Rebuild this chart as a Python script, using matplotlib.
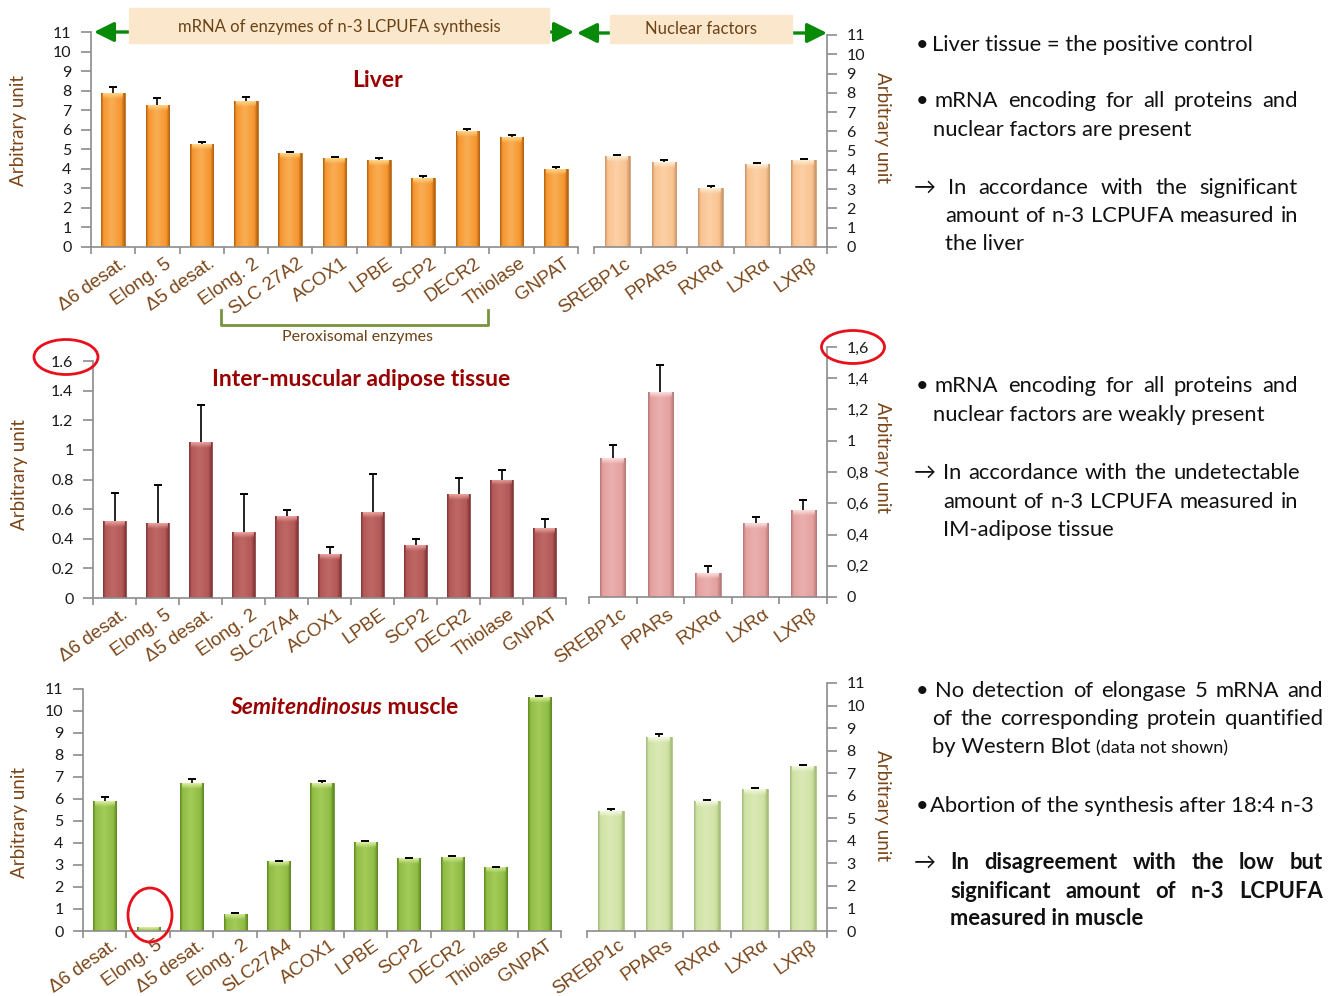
import numpy as np
import matplotlib
matplotlib.use('Agg')
import matplotlib.pyplot as plt
from matplotlib.patches import Rectangle, Ellipse
from matplotlib.colors import LinearSegmentedColormap, to_rgb
from matplotlib.ticker import FuncFormatter
from matplotlib.transforms import ScaledTranslation

W, H = 1343, 996

# categories
liver_enzymes = ['Δ6 desat.', 'Elong. 5', 'Δ5 desat.', 'Elong. 2', 'SLC 27A2', 'ACOX1',
                 'LPBE', 'SCP2', 'DECR2', 'Thiolase', 'GNPAT']
enzymes = ['Δ6 desat.', 'Elong. 5', 'Δ5 desat.', 'Elong. 2', 'SLC27A4', 'ACOX1',
           'LPBE', 'SCP2', 'DECR2', 'Thiolase', 'GNPAT']
factors = ['SREBP1c', 'PPARs', 'RXRα', 'LXRα', 'LXRβ']

# liver
liver_enz = [7.90, 7.24, 5.25, 7.46, 4.83, 4.53, 4.43, 3.51, 5.91, 5.62, 3.97]
liver_enz_err = [0.29, 0.39, 0.13, 0.19, 0.04, 0.05, 0.12, 0.14, 0.12, 0.09, 0.13]
liver_nf = [4.71, 4.40, 3.08, 4.30, 4.54]
liver_nf_err = [0.04, 0.09, 0.06, 0.05, 0.04]

# inter-muscular adipose tissue
adip_enz = [0.523, 0.509, 1.055, 0.444, 0.552, 0.294, 0.583, 0.355, 0.705, 0.800, 0.471]
adip_enz_err = [0.184, 0.256, 0.245, 0.256, 0.045, 0.047, 0.256, 0.045, 0.107, 0.066, 0.061]
adip_nf = [0.890, 1.310, 0.156, 0.474, 0.559]
adip_nf_err = [0.085, 0.173, 0.044, 0.040, 0.064]

# semitendinosus muscle
muscle_enz = [5.89, 0.17, 6.72, 0.76, 3.17, 6.72, 4.04, 3.31, 3.35, 2.90, 10.65]
muscle_enz_err = [0.18, 0.0, 0.21, 0.07, 0.03, 0.12, 0.04, 0.03, 0.05, 0.03, 0.05]
muscle_nf = [5.33, 8.62, 5.76, 6.31, 7.32]
muscle_nf_err = [0.08, 0.11, 0.03, 0.05, 0.06]

BROWN = '#7A4518'
DARKRED = '#990000'
GREY = '#8C8C8C'
GREEN = '#078A07'
TICKFONT = ['Liberation Sans', 'DejaVu Sans']

plt.rcParams['font.family'] = ['Lato', 'DejaVu Sans']

fig = plt.figure(figsize=(W / 100, H / 100), dpi=100)
renderer = fig.canvas.get_renderer()


def px_axes(x0, y0, x1, y1):
    return fig.add_axes([x0 / W, 1 - y1 / H, (x1 - x0) / W, (y1 - y0) / H])


def glossy_bars(ax, values, errors, colors, px_per_unit, width=0.53):
    color, dark, light, cap = colors
    x = np.arange(len(values))
    bars = ax.bar(x, values, width=width, color=color, edgecolor=dark, linewidth=0.5, zorder=2)
    cmap = LinearSegmentedColormap.from_list(
        'gl', [(0, dark), (0.1, color), (0.45, light), (0.85, color), (1, dark)])
    grad = np.linspace(0, 1, 64).reshape(1, -1)
    # soft light cap on top of each bar
    rgb = np.array(to_rgb(cap))
    cap_img = np.zeros((16, 1, 4))
    cap_img[:, 0, :3] = rgb
    cap_img[:, 0, 3] = np.linspace(0.95, 0.0, 16)
    dh = 6 / px_per_unit
    for b in bars:
        h = b.get_height()
        if h <= 0:
            continue
        x0, x1 = b.get_x(), b.get_x() + b.get_width()
        im = ax.imshow(grad, cmap=cmap, extent=(x0, x1, 0, h),
                       aspect='auto', zorder=2.5, interpolation='bilinear')
        im.set_clip_path(b)
        im2 = ax.imshow(cap_img, extent=(x0 + 0.08 * (x1 - x0), x1 - 0.08 * (x1 - x0),
                                         max(h - dh, 0), h),
                        aspect='auto', zorder=2.6, interpolation='bilinear')
        im2.set_clip_path(b)
    err = np.array(errors)
    top = np.array(values) + err
    ax.errorbar(x, values, yerr=[np.zeros(len(values)), err], fmt='none',
                ecolor='black', elinewidth=1.2, capsize=0, zorder=3)
    keep = err > 0
    ax.plot(x[keep], top[keep], linestyle='none', marker='_', markersize=6,
            mew=1.4, color='black', zorder=3)


def panel(box, labels, values, errors, ymax, step, colors, side, dec='.', pad=6):
    ax = px_axes(*box)
    glossy_bars(ax, values, errors, colors, (box[3] - box[1]) / ymax)
    n = len(labels)
    ax.set_xlim(-0.5, n - 0.5)
    ax.set_ylim(0, ymax)
    ax.patch.set_alpha(0)
    ax.set_xticks(np.arange(n))
    ax.set_xticklabels(labels, rotation=35, ha='right', va='top', rotation_mode='anchor',
                       fontsize=13.5, color=BROWN, family=TICKFONT)
    ax.set_xticks(np.arange(n + 1) - 0.5, minor=True)
    ax.tick_params(axis='x', which='major', length=0, pad=pad)
    ax.tick_params(axis='x', which='minor', length=5, width=1.2, color=GREY)
    for lab in ax.get_xticklabels():
        lab.set_transform(lab.get_transform() + ScaledTranslation(7 / 100, 0, fig.dpi_scale_trans))
    ax.set_yticks(np.arange(0, ymax + step / 2, step))
    ax.yaxis.set_major_formatter(FuncFormatter(
        lambda v, p: f'{v:.1f}'.rstrip('0').rstrip('.').replace('.', dec)))
    ax.tick_params(axis='y', length=7, width=1.2, color=GREY, labelsize=11.5,
                   labelcolor='#1a1a1a', pad=7)
    for s in ['top', 'left', 'right', 'bottom']:
        ax.spines[s].set_color(GREY)
        ax.spines[s].set_linewidth(1.2)
    ax.spines['top'].set_visible(False)
    if side == 'left':
        ax.spines['right'].set_visible(False)
    else:
        ax.spines['left'].set_visible(False)
        ax.yaxis.tick_right()
    return ax


# main, edge, centre highlight, top cap
orange = ('#F6962F', '#B0600F', '#F9AE55', '#FFD98A')
peach = ('#FAC390', '#C8956A', '#FCD0A6', '#FFF0D8')
red = ('#B35957', '#7E3436', '#BE6866', '#F0A8A4')
pink = ('#E5A09E', '#B57877', '#EAB0AE', '#FBE2E0')
green = ('#90BD45', '#5B8720', '#A3CB59', '#E2F2A8')
lgreen = ('#D1E2A5', '#A3BB76', '#DBE9B6', '#F6FBE6')

panel((91, 32, 578, 247), liver_enzymes, liver_enz, liver_enz_err, 11, 1, orange, 'left')
panel((594, 35, 827, 247), factors, liver_nf, liver_nf_err, 11, 1, peach, 'right')
panel((93, 361, 566, 598), enzymes, adip_enz, adip_enz_err, 1.6, 0.2, red, 'left')
panel((589, 347, 827, 597), factors, adip_nf, adip_nf_err, 1.6, 0.2, pink, 'right', dec=',')
panel((83, 689, 561, 931), enzymes, muscle_enz, muscle_enz_err, 11, 1, green, 'left', pad=4)
panel((587, 683, 827, 931), factors, muscle_nf, muscle_nf_err, 11, 1, lgreen, 'right', pad=4)

# overlay in pixel coordinates for annotations
ov = fig.add_axes([0, 0, 1, 1], zorder=10)
ov.set_xlim(0, W)
ov.set_ylim(H, 0)
ov.axis('off')
ov.patch.set_alpha(0)

arrow = dict(arrowstyle='<|-|>,head_length=0.6,head_width=0.3', color=GREEN, lw=2.4,
             mutation_scale=20, shrinkA=0, shrinkB=0)
ov.annotate('', xy=(574, 32), xytext=(94, 32), arrowprops=arrow)
ov.annotate('', xy=(827, 33), xytext=(577, 33), arrowprops=arrow)
ov.add_patch(Rectangle((129, 8), 420, 35, color='#FBE8CC', zorder=3))
ov.add_patch(Rectangle((610, 15), 182, 28, color='#FBE8CC', zorder=3))
ov.text(339, 27, 'mRNA of enzymes of n-3 LCPUFA synthesis', ha='center', va='center',
        fontsize=12, color='#6B4216', zorder=4)
ov.text(701, 29, 'Nuclear factors', ha='center', va='center', fontsize=12,
        color='#6B4216', zorder=4)

# peroxisomal bracket
ov.plot([221, 221, 488, 488], [310, 325, 325, 310], color='#77933C', lw=2)
ov.text(357, 337, 'Peroxisomal enzymes', ha='center', va='center', fontsize=11.5, color='#6B4216')

# panel titles
ov.text(377, 80, 'Liver', ha='center', va='center', fontsize=16.5, weight='bold', color=DARKRED)
ov.text(361, 379, 'Inter-muscular adipose tissue', ha='center', va='center', fontsize=16.5,
        weight='bold', color=DARKRED)


def text_width(s, **kw):
    t = ov.text(0, 0, s, **kw)
    w = t.get_window_extent(renderer).width
    t.remove()
    return w


def seq(parts, x, y):
    for s, kw in parts:
        ov.text(x, y, s, ha='left', va='baseline', **kw)
        x += text_width(s, **kw)


t_kw = dict(fontsize=16.5, weight='bold', color=DARKRED)
tot = text_width('Semitendinosus', style='italic', **t_kw) + text_width(' muscle', **t_kw)
seq([('Semitendinosus', dict(style='italic', **t_kw)), (' muscle', t_kw)], 344 - tot / 2, 714)

# y labels
for x, y, rot in [(19, 130, 90), (883, 127, -90), (20, 474, 90), (883, 457, -90),
                  (20, 822, 90), (882, 805, -90)]:
    ov.text(x, y, 'Arbitrary unit', rotation=rot, ha='center', va='center',
            fontsize=13.5, color=BROWN)

# red circles
for cx, cy, w, h in [(66, 357, 64, 35), (853, 347, 63, 33), (150, 915, 44, 54)]:
    ov.add_patch(Ellipse((cx, cy), w, h, fill=False, edgecolor='#E8101A', lw=2))

# right-hand comments
FS = 15.8
kw = dict(fontsize=FS, color='#111111')
bkw = dict(fontsize=FS, color='#111111', weight='bold')


def justify(line, x0, x1, y, **k):
    words = line.split()
    widths = [text_width(w, **k) for w in words]
    gap = (x1 - x0 - sum(widths)) / (len(words) - 1)
    x = x0
    for w, wd in zip(words, widths):
        ov.text(x, y, w, ha='left', va='baseline', **k)
        x += wd + gap


def left(line, x, y, **k):
    ov.text(x, y, line, ha='left', va='baseline', **k)


for y in [51, 107, 392, 697, 812]:
    left('•', 916, y, **kw)
for y in [194, 479, 869]:
    left('→', 914, y, **kw)

left('Liver tissue = the positive control', 932, 51, **kw)
justify('mRNA encoding for all proteins and', 935, 1298, 107, **kw)
left('nuclear factors are present', 933, 136, **kw)
justify('In accordance with the significant', 948, 1298, 194, **kw)
justify('amount of n-3 LCPUFA measured in', 945, 1298, 222, **kw)
left('the liver', 945, 250, **kw)

justify('mRNA encoding for all proteins and', 935, 1298, 392, **kw)
left('nuclear factors are weakly present', 933, 421, **kw)
justify('In accordance with the undetectable', 943, 1300, 479, **kw)
justify('amount of n-3 LCPUFA measured in', 943, 1298, 508, **kw)
left('IM-adipose tissue', 943, 536, **kw)

justify('No detection of elongase 5 mRNA and', 935, 1323, 697, **kw)
justify('of the corresponding protein quantified', 932, 1323, 725, **kw)
seq([('by Western Blot ', kw), ('(data not shown)', dict(fontsize=13, color='#111111'))], 932, 753)
left('Abortion of the synthesis after 18:4 n-3', 930, 812, **kw)
justify('In disagreement with the low but', 950, 1323, 869, **bkw)
justify('significant amount of n-3 LCPUFA', 950, 1323, 898, **bkw)
left('measured in muscle', 950, 925, **bkw)

fig.savefig('out.png', dpi=100)
